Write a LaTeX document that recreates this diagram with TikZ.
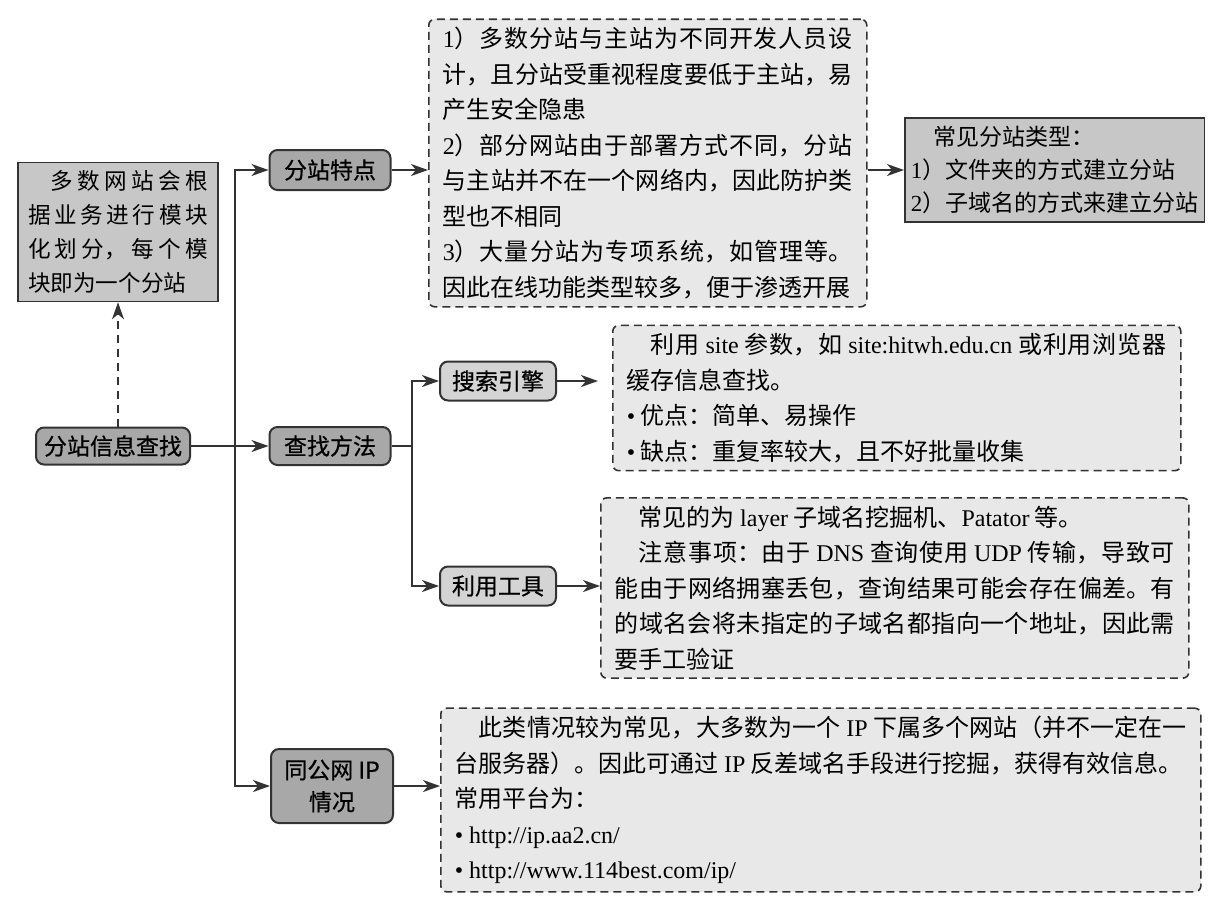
\documentclass[tikz,border=0pt]{standalone}
\usepackage{fontspec}
\setmainfont{Noto Sans CJK SC}
\newfontfamily\en{Liberation Serif}
\newfontfamily\heavy[FakeBold=0.6]{Noto Sans CJK SC}
\usepackage{tikz}
\usetikzlibrary{positioning, arrows.meta}

\XeTeXlinebreaklocale "zh"
\XeTeXlinebreakskip = 0pt plus 3pt

\definecolor{linegray}{gray}{0.2}
\definecolor{darkfill}{gray}{0.66}
\definecolor{lightfill}{gray}{0.83}
\definecolor{boxfill}{gray}{0.78}
\definecolor{notefill}{gray}{0.91}

\newcommand{\nodefont}{\heavy\fontsize{11.5}{16}\selectfont}
\newcommand{\typefont}{\fontsize{11.5}{16.5}\selectfont}
\newcommand{\notefont}{\fontsize{12}{17.75}\selectfont\tolerance=10000\parindent=0pt\relax}
\newcommand{\introfont}{\fontsize{11.3}{17}\selectfont\tolerance=10000\parindent=0pt\relax}

\tikzset{
    topic/.style={draw=linegray, fill=darkfill, line width=1pt, rounded corners=4pt, inner sep=2pt, font=\nodefont},
    subtopic/.style={topic, fill=lightfill},
    infobox/.style={draw=linegray, fill=boxfill, line width=0.8pt, inner xsep=5pt, inner ysep=4pt},
    note/.style={draw=linegray, fill=notefill, line width=0.8pt, dash pattern=on 4pt off 2.5pt, rounded corners=3pt, inner xsep=7pt, inner ysep=4pt, align=justify, font=\notefont},
    link/.style={->, draw=linegray, line width=0.8pt}
}

\begin{document}
\begin{tikzpicture}[x=0.5pt, y=-0.5pt, >={Stealth[length=8.5pt, width=6pt, inset=2.5pt]}]
    \useasboundingbox (0,0) rectangle (1215,901);

    \node (find) [topic, minimum width=77pt, minimum height=18.5pt] at (113,446) {分站信息查找};
    \node (intro) [infobox, text width=90pt, align=justify, font=\introfont] at (118,232) {\hspace*{1em}多数网站会根\linebreak 据业务进行模块\linebreak 化划分，每个模\linebreak 块即为一个分站};

    \node (feat) [topic, minimum width=60.5pt, minimum height=20pt] at (330,170) {分站特点};
    \node (method) [topic, minimum width=60.5pt, minimum height=19pt] at (330,446) {查找方法};
    \node (sameip) [topic, minimum width=61pt, minimum height=37pt, align=center] at (332,786) {同公网 IP\\情况};
    \node (search) [subtopic, minimum width=58pt, minimum height=19.5pt] at (498,381) {搜索引擎};
    \node (tool) [subtopic, minimum width=58pt, minimum height=19.5pt] at (498,586) {利用工具};

    \node (featnote) [note, text width=205pt, anchor=west] at (428,163) {{\en 1}）多数分站与主站为不同开发人员设\linebreak 计，且分站受重视程度要低于主站，易\linebreak 产生安全隐患\par
        {\en 2}）部分网站由于部署方式不同，分站\linebreak 与主站并不在一个网络内，因此防护类\linebreak 型也不相同\par
        {\en 3}）大量分站为专项系统，如管理等。\linebreak 因此在线功能类型较多，便于渗透开展};
    \node (types) [infobox, inner xsep=3pt, anchor=west, align=left, font=\typefont] at (904,170) {\hspace*{1em}常见分站类型：\\{\en 1}）文件夹的方式建立分站\\{\en 2}）子域名的方式来建立分站};
    \node (searchnote) [note, text width=270pt, anchor=west] at (612,398) {\hspace*{1em}利用 {\en site} 参数，如 {\en site:hitwh.edu.cn} 或利用浏览器\linebreak 缓存信息查找。\par
        {\en •} 优点：简单、易操作\par
        {\en •} 缺点：重复率较大，且不好批量收集};
    \node (toolnote) [note, text width=280pt, anchor=west] at (600,588) {\hspace*{1em}常见的为 {\en layer} 子域名挖掘机、{\en Patator} 等。\par
        \hspace*{1em}注意事项：由于 {\en DNS} 查询使用 {\en UDP} 传输，导致可\linebreak 能由于网络拥塞丢包，查询结果可能会存在偏差。有\linebreak 的域名会将未指定的子域名都指向一个地址，因此需\linebreak 要手工验证};
    \node (ipnote) [note, text width=366pt, anchor=west] at (440,800) {\hspace*{1em}此类情况较为常见，大多数为一个 {\en IP} 下属多个网站（并不一定在一\linebreak 台服务器）。因此可通过 {\en IP} 反差域名手段进行挖掘，获得有效信息。\par
        常用平台为：\par
        {\en • http://ip.aa2.cn/}\par
        {\en • http://www.114best.com/ip/}};

    \coordinate (trunk) at (235,446);
    \coordinate (branch) at (412,446);

    \draw [link, dash pattern=on 4pt off 3pt] (find.north -| intro.south) -- (intro.south);
    \draw [link] (find) -- (method);
    \draw [link] (trunk) |- (feat);
    \draw [link] (trunk) |- (sameip);
    \draw [link] (method) -- (branch) |- (search);
    \draw [link] (branch) |- (tool);
    \draw [link] (feat) -- (feat -| featnote.west);
    \draw [link] (featnote.east |- types) -- (types);
    \draw [link] (search) -- ([xshift=-7pt]search -| searchnote.west);
    \draw [link] (tool) -- (tool -| toolnote.west);
    \draw [link] (sameip) -- (sameip -| ipnote.west);
\end{tikzpicture}
\end{document}
